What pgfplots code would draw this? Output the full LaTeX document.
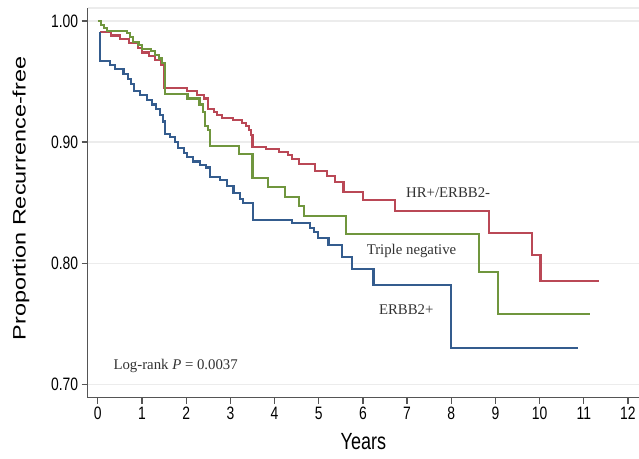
\documentclass[border=0pt]{standalone}
\usepackage{pgfplots}
\pgfplotsset{compat=1.18}
\usepackage{fontspec}
\setmainfont{Liberation Serif}
\setsansfont{Liberation Sans}
\usetikzlibrary{calc}

\definecolor{kmred}{RGB}{186,72,86}
\definecolor{kmgreen}{RGB}{112,150,62}
\definecolor{kmblue}{RGB}{52,92,142}
\definecolor{axgray}{RGB}{85,85,85}
\definecolor{gridgray}{RGB}{236,236,236}
\definecolor{txtgray}{RGB}{50,50,50}

\begin{document}
\begin{tikzpicture}
\begin{axis}[
    name=ax,
    scale only axis,
    width=551.3pt, height=389.7pt,
    xmin=-0.23, xmax=12.25,
    ymin=0.689, ymax=1.0107,
    axis x line*=bottom, axis y line*=left,
    axis line style={-, axgray, line width=1.5pt},
    xtick={0,1,...,12},
    ytick={0.7,0.8,0.9,1.0},
    tick align=outside,
    major tick length=6pt,
    tick style={axgray, line width=1.2pt},
    ymajorgrids,
    grid style={gridgray, line width=1.3pt},
    /pgf/number format/assume math mode=true,
    xticklabel={\scalebox{1.03}[1.33]{\sffamily\fontsize{13.5}{16}\selectfont\pgfmathprintnumber{\tick}}},
    yticklabel={\scalebox{1.03}[1.33]{\sffamily\fontsize{13.5}{16}\selectfont\pgfmathprintnumber[fixed,fixed zerofill,precision=2]{\tick}}},
    ticklabel style={text=black},
    xlabel={\scalebox{1}[1.3]{\sffamily\fontsize{18}{22}\selectfont Years}},
    ylabel={\scalebox{1.3}[1]{\sffamily\fontsize{18}{22}\selectfont Proportion Recurrence-free}},
    xlabel style={at={(axis description cs:0.5,-0.113)}, anchor=center},
    ylabel style={at={(axis description cs:-0.121,0.511)}, anchor=center},
    const plot,
    every axis plot/.append style={line width=2.1pt, mark=none},
]
% HR+/ERBB2-
\addplot[kmred] coordinates {
(0.05,0.991)(0.30,0.988)(0.50,0.985)(0.70,0.982)(0.90,0.978)(1.00,0.974)
(1.15,0.971)(1.30,0.968)(1.42,0.964)(1.50,0.945)(2.01,0.942)(2.24,0.939)
(2.40,0.936)(2.50,0.927)(2.62,0.925)(2.70,0.922)(2.80,0.920)(3.05,0.918)
(3.27,0.916)(3.35,0.913)(3.42,0.910)(3.47,0.906)(3.50,0.896)(3.80,0.894)
(4.10,0.892)(4.30,0.889)(4.40,0.886)(4.55,0.882)(4.92,0.876)(5.18,0.872)
(5.37,0.867)(5.56,0.859)(6.00,0.852)(6.73,0.843)(8.86,0.825)(9.82,0.807)
(10.02,0.785)(11.35,0.785)
};
% Triple negative
\addplot[kmgreen] coordinates {
(0.00,1.000)(0.08,0.997)(0.13,0.994)(0.20,0.992)(0.65,0.990)(0.72,0.987)
(0.80,0.983)(0.92,0.980)(1.00,0.977)(1.20,0.975)(1.30,0.972)(1.38,0.969)
(1.45,0.965)(1.52,0.940)(2.03,0.936)(2.30,0.931)(2.38,0.925)(2.42,0.913)
(2.50,0.910)(2.54,0.897)(3.20,0.890)(3.50,0.870)(3.86,0.863)(4.24,0.855)
(4.55,0.847)(4.66,0.839)(5.61,0.824)(8.63,0.793)(9.06,0.758)(11.14,0.758)
};
% ERBB2+
\addplot[kmblue] coordinates {
(0.03,0.990)(0.05,0.967)(0.28,0.964)(0.39,0.960)(0.58,0.956)(0.69,0.952)
(0.76,0.948)(0.81,0.942)(0.96,0.939)(1.11,0.935)(1.22,0.931)(1.32,0.927)
(1.41,0.922)(1.48,0.917)(1.52,0.907)(1.64,0.904)(1.75,0.900)(1.82,0.895)
(1.94,0.891)(2.01,0.888)(2.16,0.884)(2.31,0.881)(2.45,0.879)(2.54,0.871)
(2.77,0.869)(2.92,0.864)(3.07,0.858)(3.22,0.853)(3.29,0.850)(3.52,0.836)
(4.39,0.833)(4.80,0.829)(4.90,0.826)(4.99,0.821)(5.22,0.815)(5.52,0.805)
(5.75,0.795)(6.24,0.782)(7.99,0.730)(10.87,0.730)
};
\draw[gridgray, line width=1.2pt] (rel axis cs:0,1) -- (rel axis cs:1,1);
\begin{scope}[every node/.style={font=\fontsize{14.8}{17}\selectfont, text=txtgray}]
\node at (axis cs:7.93,0.858) {HR+/ERBB2-};
\node at (axis cs:7.10,0.810) {Triple negative};
\node at (axis cs:6.98,0.762) {ERBB2+};
\node[anchor=west, inner sep=0pt] at (axis cs:0.35,0.715) {Log-rank \textit{P} = 0.0037};
\end{scope}
\end{axis}
\pgfresetboundingbox
\path[use as bounding box] ($(ax.south west)+(-87.7pt,-60.3pt)$) rectangle ($(ax.north east)+(0pt,8pt)$);
\end{tikzpicture}
\end{document}
